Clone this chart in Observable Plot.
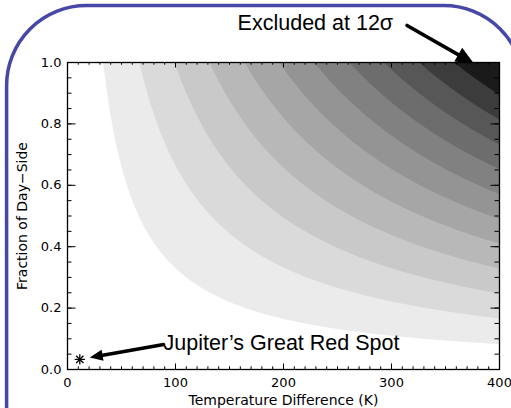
<!DOCTYPE html>
<html><head><meta charset="utf-8">
<script src="https://cdn.jsdelivr.net/npm/d3@7"></script>
<script src="https://cdn.jsdelivr.net/npm/@observablehq/plot@0.6"></script>
<style>body{margin:0;background:#fff}#chart svg{display:block}</style>
</head><body><div id="chart"></div>
<script>
// ΔT (K) at which each successive σ level crosses a fully covered day side (f = 1)
const levelEdgesAtFullDaySide = [33, 66.5, 99, 131.5, 164, 196, 228.5, 261, 293, 325.5, 358];
const bandGreys = ["#ebebeb","#dadada","#c9c9c9","#b8b8b8","#a6a6a6","#949494","#818181","#6d6d6d","#575757","#3c3c3c","#1a1a1a"];
const xMajorTicks = [0, 100, 200, 300, 400];
const xMinorTicks = d3.range(0, 401, 10);
const yMajorTicks = [0, 0.2, 0.4, 0.6, 0.8, 1.0];
const yMinorTicks = d3.range(0, 21).map(i => i * 0.05);
const annotationLabels = ["Excluded at 12σ", "Jupiter’s Great Red Spot"];
const annotationX = [301.5, 89];
const annotationY = [1.127, 0.086];
const arrowX1 = [314.4, 89], arrowY1 = [1.1205, 0.0814];
const arrowX2 = [376.3, 20.6], arrowY2 = [0.9967, 0.039];
const grsX = [11.4], grsY = [0.033];

const W = 511, H = 408, mL = 67, mR = 12, mT = 62, mB = 39;
const pw = W - mL - mR, ph = H - mT - mB;
const idx = [0, 1];

function build(angles) {
  return Plot.plot({
    width: W, height: H,
    marginLeft: mL, marginRight: mR, marginTop: mT, marginBottom: mB,
    style: {fontFamily: "DejaVu Sans", fontSize: "13px", color: "black", background: "white"},
    x: {domain: [0, 400]},
    y: {domain: [0, 1]},
    color: {type: "ordinal", domain: levelEdgesAtFullDaySide, range: bandGreys},
    marks: [
      Plot.contour({value: (x, y) => x * y, x1: 0, x2: 400, y1: 0, y2: 1,
        thresholds: levelEdgesAtFullDaySide, fill: "value", stroke: "none", pixelSize: 1}),
      // inward ticks
      Plot.tickX(xMinorTicks, {x: d => d, insetTop: ph - 2.7, stroke: "black"}),
      Plot.tickX(xMajorTicks, {x: d => d, insetTop: ph - 5.5, stroke: "black"}),
      Plot.tickX(xMinorTicks, {x: d => d, insetBottom: ph - 2.7, stroke: "black"}),
      Plot.tickX(xMajorTicks, {x: d => d, insetBottom: ph - 5.5, stroke: "black"}),
      Plot.tickY(yMinorTicks, {y: d => d, insetRight: pw - 4.5, stroke: "black"}),
      Plot.tickY(yMajorTicks, {y: d => d, insetRight: pw - 8.5, stroke: "black"}),
      Plot.tickY(yMinorTicks, {y: d => d, insetLeft: pw - 4.5, stroke: "black"}),
      Plot.tickY(yMajorTicks, {y: d => d, insetLeft: pw - 8.5, stroke: "black"}),
      Plot.frame({stroke: "black", strokeWidth: 1.3}),
      Plot.axisX(xMajorTicks, {tickSize: 0, tickPadding: 8, tickFormat: d => d3.format("d")(d),
        label: null}),
      Plot.axisX({tickSize: 0, tickFormat: () => "", ticks: [],
        label: "Temperature Difference (K)", labelAnchor: "center", labelArrow: "none", labelOffset: 35, fontSize: 14}),
      Plot.axisY(yMajorTicks, {tickSize: 0, tickPadding: 6, tickFormat: d => d3.format(".1f")(d),
        label: null}),
      Plot.axisY({tickSize: 0, tickFormat: () => "", ticks: [],
        label: "Fraction of Day−Side", labelAnchor: "center", labelArrow: "none", labelOffset: 50, fontSize: 14}),
      // Great Red Spot marker
      Plot.dot(grsX.map((_, i) => i), {x: i => grsX[i], y: i => grsY[i], symbol: "plus", r: 3.4, stroke: "black", strokeWidth: 1.3}),
      Plot.dot(grsX.map((_, i) => i), {x: i => grsX[i], y: i => grsY[i], symbol: "times", r: 3.4, stroke: "black", strokeWidth: 1.3}),
      // annotations
      Plot.text([0], {x: i => annotationX[i], y: i => annotationY[i], text: i => annotationLabels[i],
        textAnchor: "end", fontFamily: "Liberation Sans", fontSize: 21.5, fill: "black", clip: false}),
      Plot.text([1], {x: i => annotationX[i], y: i => annotationY[i], text: i => annotationLabels[i],
        textAnchor: "start", fontFamily: "Liberation Sans", fontSize: 21.5, fill: "black"}),
      Plot.arrow(idx, {x1: i => arrowX1[i], y1: i => arrowY1[i], x2: i => arrowX2[i], y2: i => arrowY2[i],
        headLength: 0, insetEnd: 9, stroke: "black", strokeWidth: 3.6}),
      Plot.vector([0], {x: i => arrowX2[i], y: i => arrowY2[i], rotate: i => angles[i], length: 18, r: 8,
        anchor: "end", shape: "spike", fill: "black", stroke: "none"}),
      Plot.vector([1], {x: i => arrowX2[i], y: i => arrowY2[i], rotate: i => angles[i], length: 13, r: 5.5,
        anchor: "end", shape: "spike", fill: "black", stroke: "none"})
    ]
  });
}

let plot = build([0, 0]);
const sx = plot.scale("x"), sy = plot.scale("y");
const angles = idx.map(i => {
  const dx = sx.apply(arrowX2[i]) - sx.apply(arrowX1[i]);
  const dy = sy.apply(arrowY2[i]) - sy.apply(arrowY1[i]);
  return Math.atan2(dx, -dy) * 180 / Math.PI;
});
plot = build(angles);

// rounded presentation frame
d3.select(plot).append("rect")
  .attr("x", 6.6).attr("y", 5.6).attr("width", 517).attr("height", 480)
  .attr("rx", 80).attr("ry", 80)
  .attr("fill", "none").attr("stroke", "#4747a8").attr("stroke-width", 3.5);

document.getElementById("chart").append(plot);
</script>
</body></html>
